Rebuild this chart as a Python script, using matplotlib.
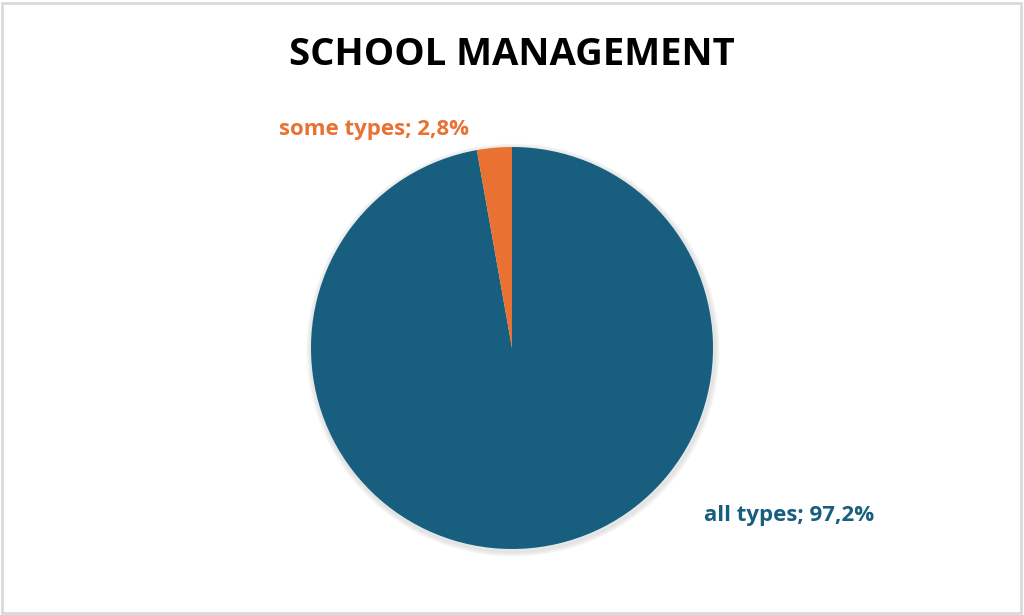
import matplotlib.pyplot as plt
from matplotlib.patches import Rectangle, Circle

labels = ['all types', 'some types']
values = [97.2, 2.8]
colors = ['#175E7F', '#E97132']

fig = plt.figure(figsize=(10.24, 6.15), dpi=100)
ax = fig.add_axes([0, 0, 1, 1])

# light frame
ax.add_patch(Rectangle((2, 2), 1019, 610, fill=False, edgecolor='#d9d9d9', linewidth=2))

cx, cy, r = 512, 267, 201
# soft shadow
for i in range(5):
    ax.add_patch(Circle((cx + 1, cy - 2), r + 1 + i, color='black', alpha=0.02, zorder=1))

wedges, _ = ax.pie(values, colors=colors, startangle=90, counterclock=False,
                   center=(cx, cy), radius=r, frame=True,
                   wedgeprops=dict(linewidth=0, zorder=2))
ax.set_xlim(0, 1024)
ax.set_ylim(0, 615)
ax.set_aspect('equal')
ax.axis('off')

font = 'Open Sans'
ax.text(512, 615 - 55, 'SCHOOL MANAGEMENT', ha='center', va='center',
        fontsize=27.5, fontweight='bold', family=font, color='black')
ax.text(374, 615 - 129, f'{labels[1]}; {values[1]:.1f}%'.replace('.', ','),
        ha='center', va='center', fontsize=16, fontweight='bold', family=font, color=colors[1])
ax.text(789, 615 - 516, f'{labels[0]}; {values[0]:.1f}%'.replace('.', ','),
        ha='center', va='center', fontsize=16, fontweight='bold', family=font, color=colors[0])

fig.savefig('out.png', dpi=100)
